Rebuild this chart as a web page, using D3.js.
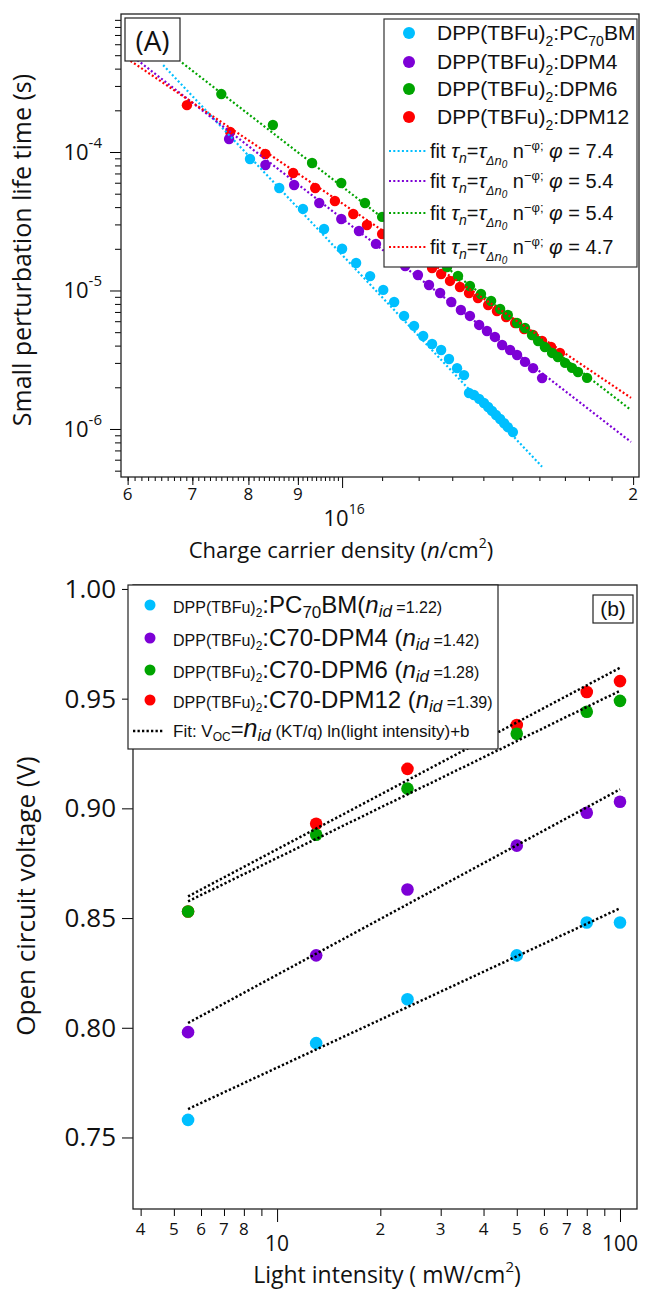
<!DOCTYPE html>
<html>
<head>
<meta charset="utf-8">
<script src="https://cdn.jsdelivr.net/npm/d3@7"></script>
<style>
body { margin: 0; background: #fff; }
svg text { font-family: "Open Sans", sans-serif; fill: #111; white-space: pre; }
svg text.leg { font-family: "Liberation Sans", Arial, sans-serif; }
</style>
</head>
<body>
<script>
// ===== panel A data : n in units of 1e16 cm^-2, tau in s =====
const nPC70BM = [0.803, 0.861, 0.911, 0.958, 1.000, 1.034, 1.069, 1.103, 1.132, 1.159, 1.187, 1.213, 1.239, 1.266, 1.290, 1.315, 1.337, 1.353, 1.369, 1.386, 1.402, 1.416, 1.429, 1.443, 1.457, 1.471, 1.484, 1.502];
const tauPC70BM = [8.90e-5, 5.50e-5, 3.88e-5, 2.78e-5, 2.00e-5, 1.58e-5, 1.27e-5, 1.01e-5, 8.26e-6, 6.55e-6, 5.55e-6, 4.69e-6, 4.11e-6, 3.72e-6, 3.20e-6, 2.75e-6, 2.45e-6, 1.82e-6, 1.76e-6, 1.65e-6, 1.54e-6, 1.44e-6, 1.35e-6, 1.26e-6, 1.18e-6, 1.10e-6, 1.03e-6, 9.50e-7];
const nDPM4 = [0.764, 0.833, 0.892, 0.947, 0.998, 1.041, 1.084, 1.124, 1.162, 1.198, 1.230, 1.263, 1.297, 1.327, 1.356, 1.386, 1.412, 1.439, 1.464, 1.492, 1.517, 1.546, 1.576, 1.610];
const tauDPM4 = [1.241e-4, 8.06e-5, 5.78e-5, 4.28e-5, 3.28e-5, 2.69e-5, 2.17e-5, 1.80e-5, 1.503e-5, 1.294e-5, 1.096e-5, 9.59e-6, 8.26e-6, 7.23e-6, 6.55e-6, 5.64e-6, 5.10e-6, 4.62e-6, 4.04e-6, 3.72e-6, 3.42e-6, 3.05e-6, 2.75e-6, 2.33e-6];
const nDPM6 = [0.750, 0.848, 0.931, 0.998, 1.056, 1.100, 1.145, 1.192, 1.239, 1.284, 1.318, 1.356, 1.392, 1.426, 1.457, 1.484, 1.517, 1.546, 1.572, 1.595, 1.621, 1.649, 1.672, 1.701, 1.729, 1.754, 1.792];
const tauDPM6 = [2.62e-4, 1.567e-4, 8.33e-5, 5.97e-5, 4.28e-5, 3.40e-5, 2.78e-5, 2.20e-5, 1.80e-5, 1.478e-5, 1.273e-5, 1.078e-5, 9.44e-6, 8.40e-6, 7.35e-6, 6.65e-6, 5.82e-6, 5.36e-6, 4.77e-6, 4.32e-6, 3.91e-6, 3.54e-6, 3.31e-6, 3.00e-6, 2.76e-6, 2.58e-6, 2.34e-6];
const nDPM12 = [0.691, 0.766, 0.833, 0.890, 0.938, 0.983, 1.027, 1.061, 1.100, 1.137, 1.176, 1.207, 1.239, 1.266, 1.293, 1.324, 1.353, 1.382, 1.416, 1.446, 1.478, 1.510, 1.543, 1.576, 1.610, 1.645, 1.680];
const tauDPM12 = [2.18e-4, 1.394e-4, 9.67e-5, 7.05e-5, 5.50e-5, 4.43e-5, 3.57e-5, 2.97e-5, 2.56e-5, 2.17e-5, 1.87e-5, 1.63e-5, 1.454e-5, 1.315e-5, 1.172e-5, 1.06e-5, 9.59e-6, 8.83e-6, 7.86e-6, 7.11e-6, 6.44e-6, 5.82e-6, 5.27e-6, 4.77e-6, 4.32e-6, 3.91e-6, 3.54e-6];

// power law fits tau = tau1 * n^-phi (tau1 = tau at n = 1e16)
const fitNames = ["PC70BM", "DPM4", "DPM6", "DPM12"];
const fitPhi = [7.4, 5.4, 5.4, 4.7];
const fitTau1 = [1.81e-5, 3.31e-5, 5.63e-5, 4.26e-5];
const fitNStart = [0.653, 0.614, 0.683, 0.599];
const fitNEnd = [1.61, 1.99, 1.99, 1.99];

// ===== panel B data =====
const intensity = [5.5, 13, 24, 50, 80, 100];
const vocPC70BM = [0.758, 0.793, 0.813, 0.833, 0.848, 0.848];
const vocDPM4 = [0.798, 0.833, 0.863, 0.883, 0.898, 0.903];
const vocDPM6 = [0.853, 0.888, 0.909, 0.934, 0.944, 0.949];
const vocDPM12 = [0.853, 0.893, 0.918, 0.938, 0.953, 0.958];
const nid = [1.22, 1.42, 1.28, 1.39];
const fitB = [0.7092, 0.7396, 0.8012, 0.7986];
const kTq = 0.025852;

const colors = { PC70BM: "#00BFFF", DPM4: "#7D00D6", DPM6: "#00A400", DPM12: "#FF0000" };

const svg = d3.select("body").append("svg").attr("width", 645).attr("height", 1290);

// rich text helper: runs with size, baseline shift, italic
function rich(sel, runs) {
	let cur = 0;
	runs.forEach((r) => {
		const s = r.s || 0;
		sel.append("tspan")
			.attr("dy", s - cur)
			.attr("font-size", r.f)
			.attr("font-style", r.i ? "italic" : null)
			.text(r.t);
		cur = s;
	});
}

//=====
// panel A
//=====
const A = { left: 121, right: 639, top: 14, bottom: 477 };
const xA = d3.scaleLog().domain([0.5906, 2.0282]).range([A.left, A.right]);
const yA = d3.scaleLog().domain([4.5e-7, 9.92e-4]).range([A.bottom, A.top]);

svg.append("clipPath").attr("id", "clipA").append("rect")
	.attr("x", A.left).attr("y", A.top)
	.attr("width", A.right - A.left).attr("height", A.bottom - A.top);

// y ticks
const yMinorA = [];
for (let e = -7; e <= -4; e++)
	for (let m = 2; m <= 9; m++) {
		const v = +(m * Math.pow(10, e)).toPrecision(3);
		if (v > 4.5e-7 && v < 9.92e-4) yMinorA.push(v);
	}
const yMajorA = [1e-4, 1e-5, 1e-6];
svg.append("g").attr("transform", `translate(${A.left},0)`)
	.call(d3.axisLeft(yA).tickValues(yMinorA).tickSize(6).tickFormat(""))
	.call((g) => g.select(".domain").remove());
svg.append("g").attr("transform", `translate(${A.left},0)`)
	.call(d3.axisLeft(yA).tickValues(yMajorA).tickSize(11).tickFormat(""))
	.call((g) => g.select(".domain").remove());
yMajorA.forEach((v) => {
	const t = svg.append("text").attr("x", 102).attr("y", yA(v) + 8).attr("text-anchor", "end");
	rich(t, [{ t: "10", f: 22 }, { t: String(Math.round(Math.log10(v))), f: 15, s: -12 }]);
});

// x ticks
const xMinorA = d3.range(60, 100).map((d) => d / 100).concat(d3.range(11, 20).map((d) => d / 10));
const xLabA = [0.6, 0.7, 0.8, 0.9, 2.0];
svg.append("g").attr("transform", `translate(0,${A.bottom})`)
	.call(d3.axisBottom(xA).tickValues(xMinorA).tickSize(4).tickFormat(""))
	.call((g) => g.select(".domain").remove());
svg.append("g").attr("transform", `translate(0,${A.bottom})`)
	.call(d3.axisBottom(xA).tickValues(xLabA).tickSize(8).tickFormat(""))
	.call((g) => g.select(".domain").remove());
svg.append("g").attr("transform", `translate(0,${A.bottom})`)
	.call(d3.axisBottom(xA).tickValues([1.0]).tickSize(11).tickFormat(""))
	.call((g) => g.select(".domain").remove());
xLabA.forEach((v) => {
	svg.append("text").attr("x", xA(v)).attr("y", 500).attr("text-anchor", "middle")
		.attr("font-size", 17).text(String(Math.round(v < 1 ? v * 10 : v)));
});
const t16 = svg.append("text").attr("x", xA(1.0) + 2).attr("y", 526).attr("text-anchor", "middle");
rich(t16, [{ t: "10", f: 22 }, { t: "16", f: 14, s: -12 }]);

// titles
const xtA = svg.append("text").attr("x", 341).attr("y", 558).attr("text-anchor", "middle");
rich(xtA, [{ t: "Charge carrier density (", f: 22 }, { t: "n", f: 22, i: true }, { t: "/cm", f: 22 }, { t: "2", f: 14, s: -10 }, { t: ")", f: 22, s: 0 }]);
svg.append("text").attr("transform", "translate(31,250) rotate(-90)").attr("text-anchor", "middle")
	.attr("font-size", 25).text("Small perturbation life time (s)");

// points
const seriesA = [
	{ name: "DPM12", n: nDPM12, tau: tauDPM12 },
	{ name: "PC70BM", n: nPC70BM, tau: tauPC70BM },
	{ name: "DPM4", n: nDPM4, tau: tauDPM4 },
	{ name: "DPM6", n: nDPM6, tau: tauDPM6 },
];
const gA = svg.append("g").attr("clip-path", "url(#clipA)");
seriesA.forEach((s) => {
	gA.selectAll(null).data(s.n).enter().append("circle")
		.attr("cx", (d) => xA(d))
		.attr("cy", (d, i) => yA(s.tau[i]))
		.attr("r", 5.2)
		.attr("fill", colors[s.name]);
});

// fit lines
const lineA = d3.line().x((d) => xA(d[0])).y((d) => yA(d[1]));
fitNames.forEach((name, k) => {
	const pts = [fitNStart[k], fitNEnd[k]].map((n) => [n, fitTau1[k] * Math.pow(n, -fitPhi[k])]);
	gA.append("path").datum(pts).attr("d", lineA)
		.attr("fill", "none").attr("stroke", colors[name])
		.attr("stroke-width", 2.2).attr("stroke-dasharray", "2,2.3");
});

// frame
svg.append("rect").attr("x", A.left).attr("y", A.top)
	.attr("width", A.right - A.left).attr("height", A.bottom - A.top)
	.attr("fill", "none").attr("stroke", "#222").attr("stroke-width", 1.3);

// (A) label
svg.append("rect").attr("x", 125).attr("y", 18).attr("width", 55).attr("height", 43)
	.attr("fill", "#fff").attr("stroke", "#222").attr("stroke-width", 1.2);
svg.append("text").attr("x", 152.5).attr("y", 51).attr("text-anchor", "middle")
	.attr("font-size", 28).text("(A)");

// legend A
svg.append("rect").attr("x", 384).attr("y", 19).attr("width", 253).attr("height", 248)
	.attr("fill", "#fff").attr("stroke", "#333").attr("stroke-width", 1.2);
const legMarkY = [33, 62, 89, 117];
const legLabels = ["PC", "DPM4", "DPM6", "DPM12"];
fitNames.forEach((name, k) => {
	svg.append("circle").attr("cx", 409).attr("cy", legMarkY[k]).attr("r", 6).attr("fill", colors[name]);
	const t = svg.append("text").attr("class", "leg").attr("x", 437).attr("y", legMarkY[k] + 7);
	const runs = [{ t: "DPP(TBFu)", f: 21 }, { t: "2", f: 14, s: 6 }];
	if (k === 0) runs.push({ t: ":PC", f: 21 }, { t: "70", f: 14, s: 6 }, { t: "BM", f: 21 });
	else runs.push({ t: ":" + legLabels[k], f: 21 });
	rich(t, runs);
});
const legFitY = [151, 181, 213, 247];
fitNames.forEach((name, k) => {
	svg.append("line").attr("x1", 389).attr("x2", 426).attr("y1", legFitY[k]).attr("y2", legFitY[k])
		.attr("stroke", colors[name]).attr("stroke-width", 2.2).attr("stroke-dasharray", "2,2.3");
	const t = svg.append("text").attr("class", "leg").attr("x", 430).attr("y", legFitY[k] + 7);
	rich(t, [
		{ t: "fit ", f: 20 }, { t: "τ", f: 21, i: true }, { t: "n", f: 14, s: 5, i: true },
		{ t: "=", f: 20 }, { t: "τ", f: 21, i: true }, { t: "Δ", f: 12, s: 7, i: true }, { t: "n", f: 13, s: 7, i: true },
		{ t: "0", f: 10, s: 10, i: true }, { t: " n", f: 20 }, { t: "−φ;", f: 13, s: -8, i: false },
		{ t: " ", f: 20 }, { t: "φ", f: 21, i: true }, { t: " = " + fitPhi[k].toFixed(1), f: 20 },
	]);
});

//=====
// panel B
//=====
const B = { left: 133, right: 637, top: 585, bottom: 1209 };
const xB = d3.scaleLog().domain([3.80, 112.1]).range([B.left, B.right]);
const yB = d3.scaleLinear().domain([0.7174, 1.0018]).range([B.bottom, B.top]);

svg.append("clipPath").attr("id", "clipB").append("rect")
	.attr("x", B.left).attr("y", B.top)
	.attr("width", B.right - B.left).attr("height", B.bottom - B.top);

const yTicksB = [0.75, 0.8, 0.85, 0.9, 0.95, 1.0];
svg.append("g").attr("transform", `translate(${B.left},0)`)
	.call(d3.axisLeft(yB).tickValues(yTicksB).tickSize(11).tickFormat(""))
	.call((g) => g.select(".domain").remove());
yTicksB.forEach((v) => {
	svg.append("text").attr("x", 116).attr("y", yB(v) + 9).attr("text-anchor", "end")
		.attr("font-size", 26).text(d3.format(".2f")(v));
});

const xMinorB = [4, 5, 6, 7, 8, 9, 20, 30, 40, 50, 60, 70, 80, 90];
const xMinorLabB = [4, 5, 6, 7, 8, 20, 30, 40, 50, 60, 70, 80];
svg.append("g").attr("transform", `translate(0,${B.bottom})`)
	.call(d3.axisBottom(xB).tickValues(xMinorB).tickSize(7).tickFormat(""))
	.call((g) => g.select(".domain").remove());
svg.append("g").attr("transform", `translate(0,${B.bottom})`)
	.call(d3.axisBottom(xB).tickValues([10, 100]).tickSize(13).tickFormat(""))
	.call((g) => g.select(".domain").remove());
xMinorLabB.forEach((v) => {
	svg.append("text").attr("x", xB(v)).attr("y", 1235).attr("text-anchor", "middle")
		.attr("font-size", 17).text(String(v >= 10 ? v / 10 : v));
});
[10, 100].forEach((v) => {
	svg.append("text").attr("x", xB(v)).attr("y", 1251).attr("text-anchor", "middle")
		.attr("font-size", 21).text(String(v));
});

const xtB = svg.append("text").attr("x", 387).attr("y", 1283).attr("text-anchor", "middle");
rich(xtB, [{ t: "Light intensity ( mW/cm", f: 23 }, { t: "2", f: 15, s: -11 }, { t: ")", f: 23, s: 0 }]);
svg.append("text").attr("transform", "translate(35,896) rotate(-90)").attr("text-anchor", "middle")
	.attr("font-size", 26).text("Open circuit voltage (V)");

const seriesB = [
	{ name: "DPM12", v: vocDPM12 },
	{ name: "PC70BM", v: vocPC70BM },
	{ name: "DPM4", v: vocDPM4 },
	{ name: "DPM6", v: vocDPM6 },
];
const gB = svg.append("g").attr("clip-path", "url(#clipB)");
seriesB.forEach((s) => {
	gB.selectAll(null).data(intensity).enter().append("circle")
		.attr("cx", (d) => xB(d))
		.attr("cy", (d, i) => yB(s.v[i]))
		.attr("r", 6.3)
		.attr("fill", colors[s.name]);
});

const lineB = d3.line().x((d) => xB(d[0])).y((d) => yB(d[1]));
const fitOrderB = ["PC70BM", "DPM4", "DPM6", "DPM12"];
fitOrderB.forEach((name, k) => {
	const pts = [intensity[0], intensity[intensity.length - 1]].map((I) => [I, nid[k] * kTq * Math.log(I) + fitB[k]]);
	gB.append("path").datum(pts).attr("d", lineB)
		.attr("fill", "none").attr("stroke", "#000")
		.attr("stroke-width", 2.5).attr("stroke-dasharray", "2.3,2.2");
});

svg.append("rect").attr("x", B.left).attr("y", B.top)
	.attr("width", B.right - B.left).attr("height", B.bottom - B.top)
	.attr("fill", "none").attr("stroke", "#222").attr("stroke-width", 1.3);

// (b) label
svg.append("rect").attr("x", 593).attr("y", 595).attr("width", 40).attr("height", 28)
	.attr("fill", "#fff").attr("stroke", "#222").attr("stroke-width", 1.2);
svg.append("text").attr("class", "leg").attr("x", 613).attr("y", 616).attr("text-anchor", "middle")
	.attr("font-size", 21).text("(b)");

// legend B
svg.append("rect").attr("x", 128).attr("y", 585).attr("width", 370).attr("height", 164)
	.attr("fill", "#fff").attr("stroke", "#222").attr("stroke-width", 1.2);
const legBY = [605, 638, 670, 700];
const legBNames = [":PC", ":C70-DPM4 (", ":C70-DPM6 (", ":C70-DPM12 ("];
fitOrderB.forEach((name, k) => {
	svg.append("circle").attr("cx", 150).attr("cy", legBY[k]).attr("r", 5.5).attr("fill", colors[name]);
	const t = svg.append("text").attr("class", "leg").attr("x", 173).attr("y", legBY[k] + 8);
	const runs = [{ t: "DPP(TBFu)", f: 16 }, { t: "2", f: 12, s: 4 }];
	if (k === 0) runs.push({ t: ":PC", f: 24 }, { t: "70", f: 17, s: 5 }, { t: "BM(", f: 24 });
	else runs.push({ t: legBNames[k], f: 24 });
	runs.push({ t: "n", f: 24, i: true }, { t: "id", f: 17, s: 4, i: true }, { t: " =" + nid[k].toFixed(2) + ")", f: 16 });
	rich(t, runs);
});
svg.append("line").attr("x1", 133).attr("x2", 164).attr("y1", 731).attr("y2", 731)
	.attr("stroke", "#000").attr("stroke-width", 2.5).attr("stroke-dasharray", "2.3,2.2");
const tf = svg.append("text").attr("class", "leg").attr("x", 173).attr("y", 737);
rich(tf, [
	{ t: "Fit: V", f: 17 }, { t: "OC", f: 12, s: 4 }, { t: "=", f: 22 },
	{ t: "n", f: 25, i: true }, { t: "id", f: 17, s: 4, i: true },
	{ t: " (KT/q) ln(light intensity)+b", f: 17 },
]);
</script>
</body>
</html>
